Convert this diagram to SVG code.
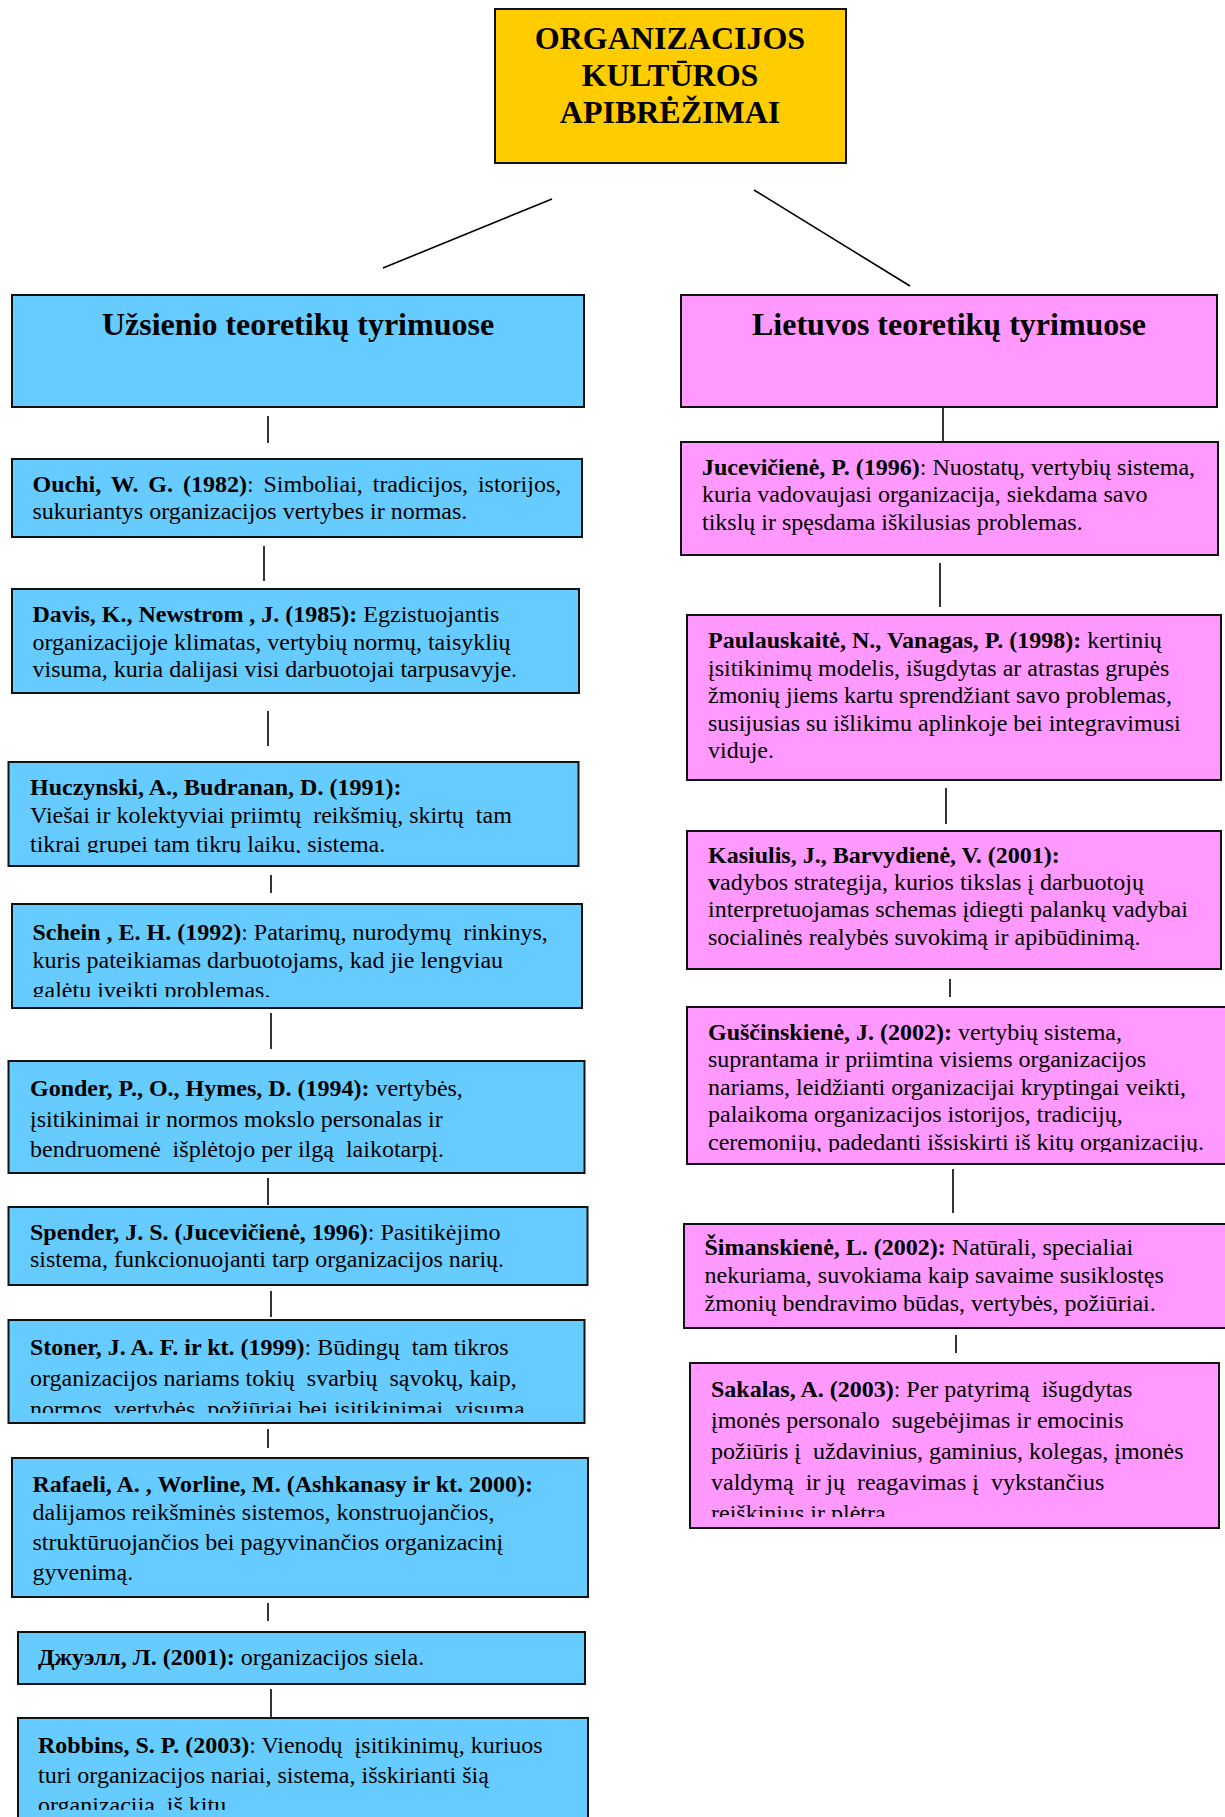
<svg xmlns="http://www.w3.org/2000/svg" width="1225" height="1817" viewBox="0 0 1225 1817">
<style>
text{font-family:"Liberation Serif","Times New Roman",serif;font-size:24px;fill:#000;white-space:pre}
.b{font-weight:bold}
.title{font-size:32px;font-weight:bold;text-anchor:middle}
.hdr{font-size:32px;font-weight:bold;text-anchor:middle}
.box{stroke:#111;stroke-width:2}
.blue{fill:#66CCFF}
.pink{fill:#FF99FF}
.conn line{stroke:#000;stroke-width:1.6}
</style>
<defs>
<clipPath id="cpHuc"><rect x="0" y="760" width="600" height="93"/></clipPath>
<clipPath id="cpSch"><rect x="0" y="900" width="600" height="97"/></clipPath>
<clipPath id="cpSto"><rect x="0" y="1318" width="600" height="95"/></clipPath>
<clipPath id="cpRob"><rect x="0" y="1716" width="600" height="94"/></clipPath>
<clipPath id="cpGus"><rect x="680" y="1005" width="545" height="147"/></clipPath>
<clipPath id="cpSak"><rect x="680" y="1360" width="545" height="157"/></clipPath>
</defs>
<rect width="1225" height="1817" fill="#fff"/>

<g id="connectors" class="conn">
<line x1="552" y1="199" x2="383" y2="268"/>
<line x1="754" y1="190" x2="910" y2="286"/>
<line x1="268" y1="416" x2="268" y2="443"/>
<line x1="264" y1="546" x2="264" y2="581"/>
<line x1="268" y1="711" x2="268" y2="746"/>
<line x1="271" y1="875" x2="271" y2="893"/>
<line x1="271" y1="1013" x2="271" y2="1049"/>
<line x1="268" y1="1178" x2="268" y2="1205"/>
<line x1="271" y1="1291" x2="271" y2="1317"/>
<line x1="268" y1="1429" x2="268" y2="1448"/>
<line x1="268" y1="1603" x2="268" y2="1621"/>
<line x1="271" y1="1689" x2="271" y2="1717"/>
<line x1="943" y1="407" x2="943" y2="442"/>
<line x1="940" y1="563" x2="940" y2="607"/>
<line x1="946" y1="788" x2="946" y2="824"/>
<line x1="950" y1="979" x2="950" y2="997"/>
<line x1="953" y1="1169" x2="953" y2="1213"/>
<line x1="956" y1="1335" x2="956" y2="1353"/>
</g>

<g id="title">
<rect class="box" x="495" y="9" width="351" height="154" fill="#FFCC00"/>
<text class="title" x="670" y="49">ORGANIZACIJOS</text>
<text class="title" x="670" y="86">KULTŪROS</text>
<text class="title" x="670" y="123">APIBRĖŽIMAI</text>
</g>

<g id="hdr-left">
<rect class="box blue" x="12" y="295" width="572" height="112"/>
<text class="hdr" x="298" y="335">Užsienio teoretikų tyrimuose</text>
</g>
<g id="hdr-right">
<rect class="box pink" x="681" y="295" width="536" height="112"/>
<text class="hdr" x="949" y="335">Lietuvos teoretikų tyrimuose</text>
</g>

<g id="ouchi">
<rect class="box blue" x="12" y="459" width="570" height="78"/>
<text x="32.5" y="492" word-spacing="3.9"><tspan class="b">Ouchi, W. G. (1982)</tspan>: Simboliai, tradicijos, istorijos,</text>
<text x="32.5" y="519">sukuriantys organizacijos vertybes ir normas.</text>
</g>

<g id="davis">
<rect class="box blue" x="12" y="589" width="567" height="104"/>
<text x="32.5" y="622"><tspan class="b">Davis, K., Newstrom , J. (1985):</tspan> Egzistuojantis</text>
<text x="32.5" y="650">organizacijoje klimatas, vertybių normų, taisyklių</text>
<text x="32.5" y="677">visuma, kuria dalijasi visi darbuotojai tarpusavyje.</text>
</g>

<g id="huczynski">
<rect class="box blue" x="8.5" y="762" width="570" height="104"/>
<g clip-path="url(#cpHuc)">
<text x="30" y="795" class="b">Huczynski, A., Budranan, D. (1991):</text>
<text x="30" y="823">Viešai ir kolektyviai priimtų  reikšmių, skirtų  tam</text>
<text x="30" y="852">tikrai grupei tam tikrų laiku, sistema.</text>
</g>
</g>

<g id="schein">
<rect class="box blue" x="12" y="904" width="570" height="104"/>
<g clip-path="url(#cpSch)">
<text x="32.5" y="940"><tspan class="b">Schein , E. H. (1992)</tspan>: Patarimų, nurodymų  rinkinys,</text>
<text x="32.5" y="968">kuris pateikiamas darbuotojams, kad jie lengviau</text>
<text x="32.5" y="998">galėtų įveikti problemas.</text>
</g>
</g>

<g id="gonder">
<rect class="box blue" x="8.5" y="1061" width="576" height="112"/>
<text x="30" y="1096"><tspan class="b">Gonder, P., O., Hymes, D. (1994):</tspan> vertybės,</text>
<text x="30" y="1127">įsitikinimai ir normos mokslo personalas ir</text>
<text x="30" y="1157">bendruomenė  išplėtojo per ilgą  laikotarpį.</text>
</g>

<g id="spender">
<rect class="box blue" x="8.5" y="1207" width="579" height="78"/>
<text x="30" y="1240"><tspan class="b">Spender, J. S. (Jucevičienė, 1996)</tspan>: Pasitikėjimo</text>
<text x="30" y="1267">sistema, funkcionuojanti tarp organizacijos narių.</text>
</g>

<g id="stoner">
<rect class="box blue" x="8.5" y="1320" width="576" height="103"/>
<g clip-path="url(#cpSto)">
<text x="30" y="1355"><tspan class="b">Stoner, J. A. F. ir kt. (1999)</tspan>: Būdingų  tam tikros</text>
<text x="30" y="1386">organizacijos nariams tokių  svarbių  sąvokų, kaip,</text>
<text x="30" y="1417">normos, vertybės, požiūriai bei įsitikinimai, visuma.</text>
</g>
</g>

<g id="rafaeli">
<rect class="box blue" x="12" y="1458" width="576" height="139"/>
<text x="32.5" y="1492" class="b">Rafaeli, A. , Worline, M. (Ashkanasy ir kt. 2000):</text>
<text x="32.5" y="1520">dalijamos reikšminės sistemos, konstruojančios,</text>
<text x="32.5" y="1550">struktūruojančios bei pagyvinančios organizacinį</text>
<text x="32.5" y="1580">gyvenimą.</text>
</g>

<g id="dzhuell">
<rect class="box blue" x="18" y="1632" width="567" height="52"/>
<text x="38" y="1665"><tspan class="b">Джуэлл, Л. (2001):</tspan> organizacijos siela.</text>
</g>

<g id="robbins">
<rect class="box blue" x="18" y="1718" width="570" height="130"/>
<g clip-path="url(#cpRob)">
<text x="38" y="1753"><tspan class="b">Robbins, S. P. (2003)</tspan>: Vienodų  įsitikinimų, kuriuos</text>
<text x="38" y="1783">turi organizacijos nariai, sistema, išskirianti šią</text>
<text x="38" y="1813">organizaciją  iš kitų.</text>
</g>
</g>

<g id="juceviciene">
<rect class="box pink" x="681" y="442" width="537" height="113"/>
<text x="702" y="475"><tspan class="b">Jucevičienė, P. (1996)</tspan>: Nuostatų, vertybių sistema,</text>
<text x="702" y="502">kuria vadovaujasi organizacija, siekdama savo</text>
<text x="702" y="530">tikslų ir spęsdama iškilusias problemas.</text>
</g>

<g id="paulauskaite">
<rect class="box pink" x="687" y="615" width="534" height="165"/>
<text x="708" y="648"><tspan class="b">Paulauskaitė, N., Vanagas, P. (1998):</tspan> kertinių</text>
<text x="708" y="676">įsitikinimų modelis, išugdytas ar atrastas grupės</text>
<text x="708" y="703">žmonių jiems kartu sprendžiant savo problemas,</text>
<text x="708" y="731">susijusias su išlikimu aplinkoje bei integravimusi</text>
<text x="708" y="758">viduje.</text>
</g>

<g id="kasiulis">
<rect class="box pink" x="687" y="831" width="534" height="138"/>
<text x="708" y="863" class="b">Kasiulis, J., Barvydienė, V. (2001):</text>
<text x="708" y="890"><tspan class="b">v</tspan>adybos strategija, kurios tikslas į darbuotojų</text>
<text x="708" y="917">interpretuojamas schemas įdiegti palankų vadybai</text>
<text x="708" y="945">socialinės realybės suvokimą ir apibūdinimą.</text>
</g>

<g id="gusciskiene">
<rect class="box pink" x="687" y="1007" width="560" height="157"/>
<g clip-path="url(#cpGus)">
<text x="708" y="1040"><tspan class="b">Guščinskienė, J. (2002):</tspan> vertybių sistema,</text>
<text x="708" y="1067">suprantama ir priimtina visiems organizacijos</text>
<text x="708" y="1095">nariams, leidžianti organizacijai kryptingai veikti,</text>
<text x="708" y="1122">palaikoma organizacijos istorijos, tradicijų,</text>
<text x="708" y="1150">ceremonijų, padedanti išsiskirti iš kitų organizacijų.</text>
</g>
</g>

<g id="simanskiene">
<rect class="box pink" x="684" y="1224" width="560" height="104"/>
<text x="704.5" y="1255"><tspan class="b">Šimanskienė, L. (2002):</tspan> Natūrali, specialiai</text>
<text x="704.5" y="1283">nekuriama, suvokiama kaip savaime susiklostęs</text>
<text x="704.5" y="1311">žmonių bendravimo būdas, vertybės, požiūriai.</text>
</g>

<g id="sakalas">
<rect class="box pink" x="690" y="1363" width="529" height="165"/>
<g clip-path="url(#cpSak)">
<text x="711" y="1397"><tspan class="b">Sakalas, A. (2003)</tspan>: Per patyrimą  išugdytas</text>
<text x="711" y="1428">įmonės personalo  sugebėjimas ir emocinis</text>
<text x="711" y="1459">požiūris į  uždavinius, gaminius, kolegas, įmonės</text>
<text x="711" y="1490">valdymą  ir jų  reagavimas į  vykstančius</text>
<text x="711" y="1521">reiškinius ir plėtrą.</text>
</g>
</g>
</svg>
